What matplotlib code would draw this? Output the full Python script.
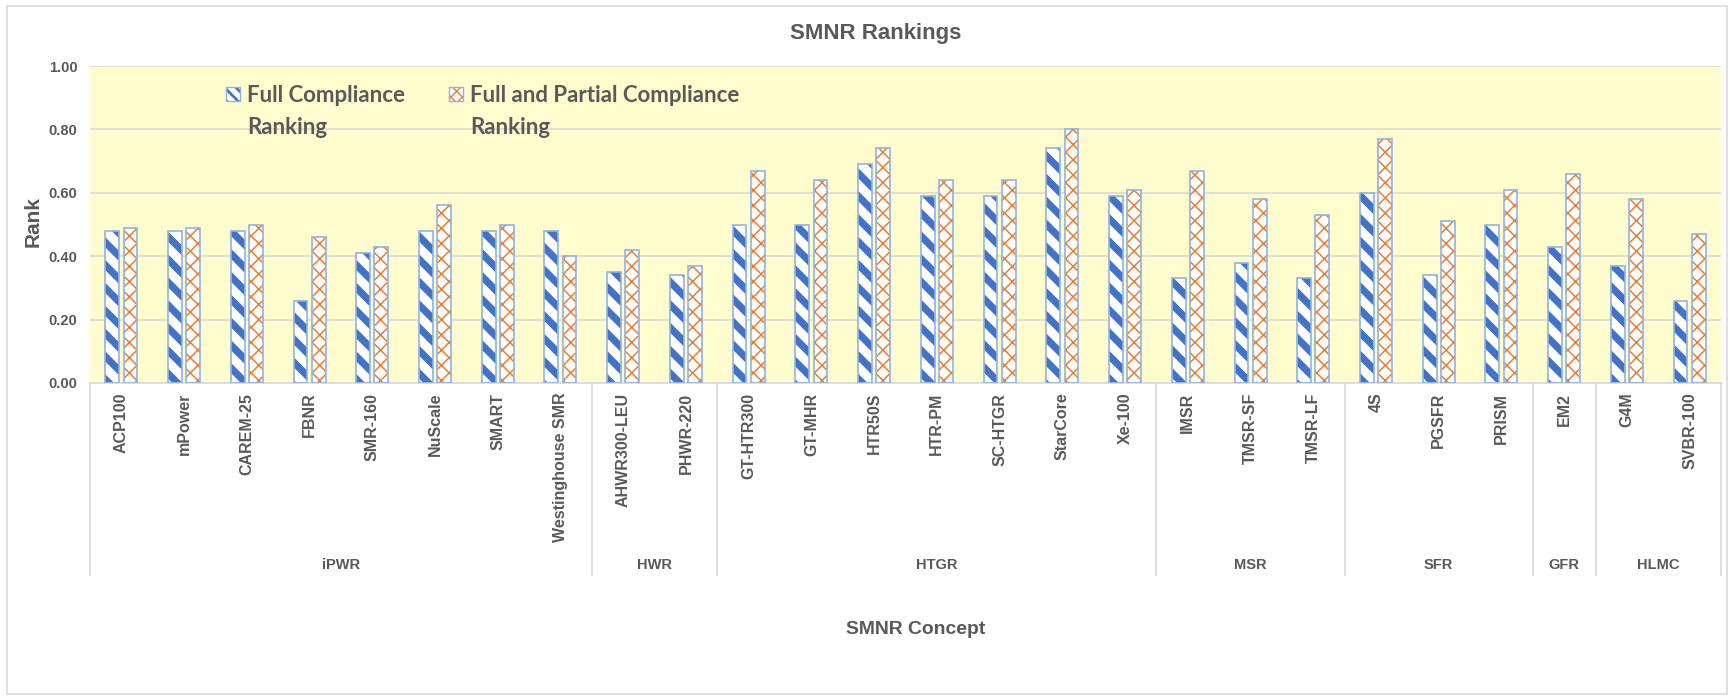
import matplotlib
matplotlib.use('Agg')
import matplotlib.pyplot as plt
import numpy as np
from matplotlib.patches import Rectangle
from matplotlib.lines import Line2D

plt.rcParams['font.family'] = ['Liberation Sans', 'DejaVu Sans']

# ---------------- data ----------------
groups = ['iPWR', 'HWR', 'HTGR', 'MSR', 'SFR', 'GFR', 'HLMC']
group_sizes = [8, 2, 7, 3, 3, 1, 2]
concepts = ['ACP100', 'mPower', 'CAREM-25', 'FBNR', 'SMR-160', 'NuScale', 'SMART',
            'Westinghouse SMR', 'AHWR300-LEU', 'PHWR-220', 'GT-HTR300', 'GT-MHR',
            'HTR50S', 'HTR-PM', 'SC-HTGR', 'StarCore', 'Xe-100', 'IMSR', 'TMSR-SF',
            'TMSR-LF', '4S', 'PGSFR', 'PRISM', 'EM2', 'G4M', 'SVBR-100']
full_compliance = [0.48, 0.48, 0.48, 0.26, 0.41, 0.48, 0.48, 0.48, 0.35, 0.34,
                   0.50, 0.50, 0.69, 0.59, 0.59, 0.74, 0.59, 0.33, 0.38, 0.33,
                   0.60, 0.34, 0.50, 0.43, 0.37, 0.26]
full_partial = [0.49, 0.49, 0.50, 0.46, 0.43, 0.56, 0.50, 0.40, 0.42, 0.37,
                0.67, 0.64, 0.74, 0.64, 0.64, 0.80, 0.61, 0.67, 0.58, 0.53,
                0.77, 0.51, 0.61, 0.66, 0.58, 0.47]
yticks = [0.0, 0.2, 0.4, 0.6, 0.8, 1.0]
series_names = ['Full Compliance\nRanking', 'Full and Partial Compliance\nRanking']

# ---------------- layout ----------------
W, H = 1732, 700
DPI = 137.5           # larger dpi -> coarser hatch cells (like the reference patterns)
K = 100.0 / DPI       # sizes below are given for 100 dpi and rescaled


def S(v):
    return v * K


GREY = '#595959'
fig = plt.figure(figsize=(W / DPI, H / DPI), dpi=DPI)


def fx(px):
    return px / W


def fy(py):
    return 1 - py / H


L, R, T, B = 90, 1721, 66, 383
ax = fig.add_axes([fx(L), fy(B), fx(R) - fx(L), (B - T) / H])
ax.set_facecolor('#FFFDCD')
n = len(concepts)
x = np.arange(n) + 0.5
bw = 0.22
off = 0.145
BLUE_HLW = S(5.2)
ORANGE_HLW = S(1.1)

ax.set_axisbelow(True)
with plt.rc_context({'hatch.linewidth': BLUE_HLW}):
    b1 = ax.bar(x - off, full_compliance, bw, facecolor='white', edgecolor='#4472C4',
                hatch='\\\\', linewidth=0, zorder=2)
    for p in b1:
        if hasattr(p, 'set_hatch_linewidth'):
            p.set_hatch_linewidth(BLUE_HLW)
with plt.rc_context({'hatch.linewidth': ORANGE_HLW}):
    b2 = ax.bar(x + off, full_partial, bw, facecolor='white', edgecolor='#ED7D31',
                hatch='xxx', linewidth=0, zorder=2)
    for p in b2:
        if hasattr(p, 'set_hatch_linewidth'):
            p.set_hatch_linewidth(ORANGE_HLW)
ax.bar(x - off, full_compliance, bw, fill=False, edgecolor='#8DB4E2', linewidth=S(1.2), zorder=3)
ax.bar(x + off, full_partial, bw, fill=False, edgecolor='#8DB4E2', linewidth=S(1.2), zorder=3)

ax.set_xlim(0, n)
ax.set_ylim(0, 1.0)
ax.set_yticks(yticks)
ax.set_yticklabels([f'{v:.2f}' for v in yticks], fontsize=S(10.5), fontweight='bold', color=GREY)
ax.tick_params(axis='y', length=0, pad=S(9))
ax.set_xticks(x)
ax.set_xticklabels(concepts, rotation=90, fontsize=S(11.5), fontweight='bold', color=GREY,
                   va='top', ha='center')
ax.tick_params(axis='x', length=0, pad=S(7))
ax.yaxis.grid(True, color='#D9D9D9', linewidth=S(1.2))
for s in ['left', 'right', 'top']:
    ax.spines[s].set_visible(False)
ax.spines['bottom'].set_color('#D9D9D9')
ax.spines['bottom'].set_linewidth(S(1.2))

# group separators and labels
cw = (R - L) / n
pos = 0
bounds = [0]
for g, s in zip(groups, group_sizes):
    cx = L + (pos + s / 2) * cw
    fig.text(fx(cx), fy(565), g, ha='center', va='center', fontsize=S(10.5),
             fontweight='bold', color=GREY)
    pos += s
    bounds.append(pos)
for bnd in bounds:
    px = L + bnd * cw
    fig.add_artist(Line2D([fx(px), fx(px)], [fy(B), fy(575)], color='#D9D9D9', lw=S(1.2)))

# titles
fig.text(fx(876), fy(33), 'SMNR Rankings', ha='center', va='center', fontsize=S(16),
         fontweight='bold', color=GREY)
fig.text(fx(916), fy(630), 'SMNR Concept', ha='center', va='center', fontsize=S(14),
         fontweight='bold', color=GREY)
fig.text(fx(33), fy(222), 'Rank', ha='center', va='center', rotation=90, fontsize=S(15),
         fontweight='bold', color=GREY)

# legend (manual)
leg = [(233, '#4472C4', '\\\\\\\\', S(2.0)), (456, '#ED7D31', 'xxxx', S(1.0))]
for (lx, col, hat, hlw), name in zip(leg, series_names):
    with plt.rc_context({'hatch.linewidth': hlw}):
        r = Rectangle((fx(lx - 7), fy(101)), 14 / W, 14 / H, transform=fig.transFigure,
                      facecolor='white', edgecolor=col, hatch=hat, linewidth=0)
        if hasattr(r, 'set_hatch_linewidth'):
            r.set_hatch_linewidth(hlw)
        fig.add_artist(r)
    fig.add_artist(Rectangle((fx(lx - 7), fy(101)), 14 / W, 14 / H, transform=fig.transFigure,
                             fill=False, edgecolor='#8DB4E2', linewidth=S(1)))
    l1, l2 = name.split('\n')
    fig.text(fx(lx + 14), fy(95), l1, ha='left', va='center', fontsize=S(16),
             fontweight='bold', color=GREY, family='Lato')
    fig.text(fx(lx + 14), fy(128), l2, ha='left', va='center', fontsize=S(16),
             fontweight='bold', color=GREY, family='Lato')

# outer frame
fig.add_artist(Rectangle((fx(7), fy(694)), (1727 - 7) / W, (694 - 6) / H,
                         transform=fig.transFigure, fill=False, edgecolor='#D9D9D9', lw=S(1.2)))

fig.savefig('out.png', dpi=DPI, facecolor='white')
